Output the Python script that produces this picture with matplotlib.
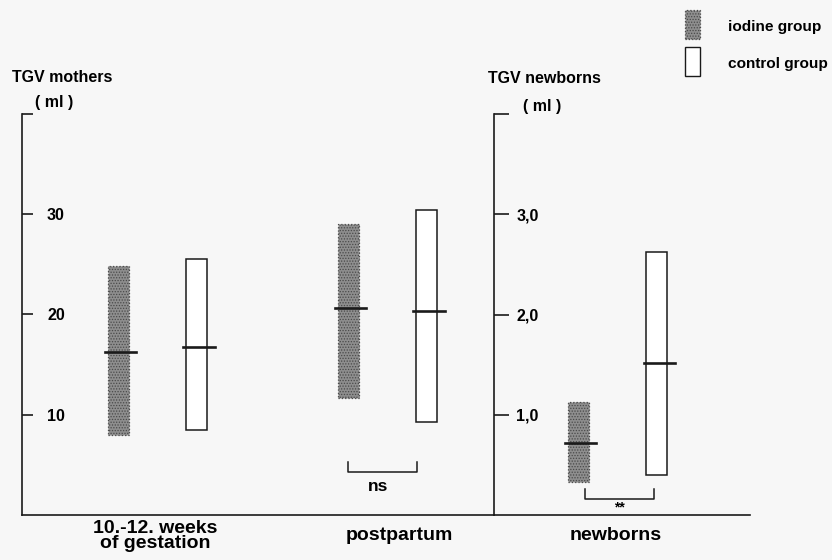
import numpy as np
import matplotlib
matplotlib.use("Agg")
import matplotlib.pyplot as plt
from matplotlib.patches import Rectangle
from matplotlib.transforms import blended_transform_factory

plt.rcParams['font.family'] = ['Liberation Sans', 'DejaVu Sans']
plt.rcParams['font.weight'] = 'bold'
plt.rcParams['hatch.linewidth'] = 0.6

# ---- data (ml): low end, high end, median of each bar
periods = ["10.-12. weeks\nof gestation", "postpartum"]
moth_iod_low = [8.0, 11.7]
moth_iod_high = [24.8, 29.0]
moth_iod_med = [16.3, 20.6]
moth_ctl_low = [8.5, 9.3]
moth_ctl_high = [25.5, 30.4]
moth_ctl_med = [16.8, 20.3]

newb_label = "newborns"
newb_iod_low, newb_iod_high, newb_iod_med = 0.33, 1.13, 0.72
newb_ctl_low, newb_ctl_high, newb_ctl_med = 0.40, 2.62, 1.52

moth_ticks = [10, 20, 30, 40]
moth_ticklabels = ["10", "20", "30", ""]
newb_ticks = [1, 2, 3, 4]
newb_ticklabels = ["1,0", "2,0", "3,0", ""]
sig_labels = ["ns", "**"]
group_names = ["iodine group", "control group"]

BG = "#f7f7f7"
INK = "#1a1a1a"
IOD_FC, IOD_EC = "#8e8e8e", "#4a4a4a"
OFF, W = 0.17, 0.09

fig = plt.figure(figsize=(8.32, 5.6), dpi=100, facecolor=BG)
ax_m = fig.add_axes([22/832, 45/560, 472/832, 401/560])
ax_n = fig.add_axes([494/832, 45/560, 256/832, 401/560])
ax_m.set_xlim(-0.589, 1.463); ax_m.set_ylim(0, 40)
ax_n.set_xlim(1.463, 2.576); ax_n.set_ylim(0, 4)

def bar(ax, x, low, high, med, iodine):
    if iodine:
        ax.bar(x, high - low, bottom=low, width=W, facecolor=IOD_FC, edgecolor=IOD_EC,
               hatch="......", linestyle=":", linewidth=0.9, zorder=2)
    else:
        ax.bar(x, high - low, bottom=low, width=W, facecolor="white", edgecolor=INK,
               linewidth=1.1, zorder=2)
    ax.plot([x - 0.057, x + 0.078], [med, med], color=INK, lw=1.9, zorder=3)

for i in range(len(periods)):
    bar(ax_m, i - OFF, moth_iod_low[i], moth_iod_high[i], moth_iod_med[i], True)
    bar(ax_m, i + OFF, moth_ctl_low[i], moth_ctl_high[i], moth_ctl_med[i], False)
bar(ax_n, 2 - OFF, newb_iod_low, newb_iod_high, newb_iod_med, True)
bar(ax_n, 2 + OFF, newb_ctl_low, newb_ctl_high, newb_ctl_med, False)

for ax, ticks, labels, tl, pad in ((ax_m, moth_ticks, moth_ticklabels, 8, -18),
                                   (ax_n, newb_ticks, newb_ticklabels, 11, -16)):
    ax.set_facecolor("none")
    for s in ("top", "right"):
        ax.spines[s].set_visible(False)
    for s in ("left", "bottom"):
        ax.spines[s].set_color(INK); ax.spines[s].set_linewidth(1.2)
    ax.set_xticks([])
    ax.set_yticks(ticks)
    ax.set_yticklabels(labels, fontsize=11.5, fontweight="bold")
    ax.tick_params(axis="y", direction="in", length=tl, width=1.2, color=INK, pad=pad)
    for lab in ax.get_yticklabels():
        lab.set_horizontalalignment("left")

# significance brackets
ax_m.plot([1 - 0.17, 1 - 0.17, 1 + 0.13, 1 + 0.13], [5.3, 4.3, 4.3, 5.3], color=INK, lw=1.1, clip_on=False)
ax_m.text(1 - 0.04, 2.8, sig_labels[0], ha="center", va="center", fontsize=12.5, fontweight="bold")
ax_n.plot([2 - 0.14, 2 - 0.14, 2 + 0.16, 2 + 0.16], [0.26, 0.16, 0.16, 0.26], color=INK, lw=1.1, clip_on=False)
ax_n.text(2 + 0.01, 0.08, sig_labels[1], ha="center", va="center", fontsize=10, fontweight="bold")

# category labels under the baseline
tr_m = blended_transform_factory(ax_m.transData, ax_m.transAxes)
tr_n = blended_transform_factory(ax_n.transData, ax_n.transAxes)
ax_m.text(-0.01, -0.052, periods[0], transform=tr_m, ha="center", va="center",
          fontsize=14, fontweight="bold", linespacing=0.8)
ax_m.text(1.05, -0.05, periods[1], transform=tr_m, ha="center", va="center",
          fontsize=14, fontweight="bold")
ax_n.text(1.99, -0.05, newb_label, transform=tr_n, ha="center", va="center",
          fontsize=14, fontweight="bold")

# axis titles
fig.text(12/832, 1 - 77/560, "TGV mothers", ha="left", va="center", fontsize=11.5, fontweight="bold")
fig.text(35/832, 1 - 103/560, "( ml )", ha="left", va="center", fontsize=11.5, fontweight="bold")
fig.text(488/832, 1 - 79/560, "TGV newborns", ha="left", va="center", fontsize=11.5, fontweight="bold")
fig.text(523/832, 1 - 107/560, "( ml )", ha="left", va="center", fontsize=11.5, fontweight="bold")

# legend: tall swatches, labels to the right
sw_styles = [dict(facecolor=IOD_FC, edgecolor=IOD_EC, hatch="......", linestyle=":", linewidth=0.9),
             dict(facecolor="white", edgecolor=INK, linewidth=1.0)]
for k, (name, st) in enumerate(zip(group_names, sw_styles)):
    top = 10 + k * 37
    fig.patches.append(Rectangle((685/832, 1 - (top + 29)/560), 15/832, 29/560,
                                 transform=fig.transFigure, figure=fig, **st))
    fig.text(728/832, 1 - (top + 17)/560, name, ha="left", va="center",
             fontsize=11.1, fontweight="bold")

fig.savefig("out.png", dpi=100, facecolor=BG)
